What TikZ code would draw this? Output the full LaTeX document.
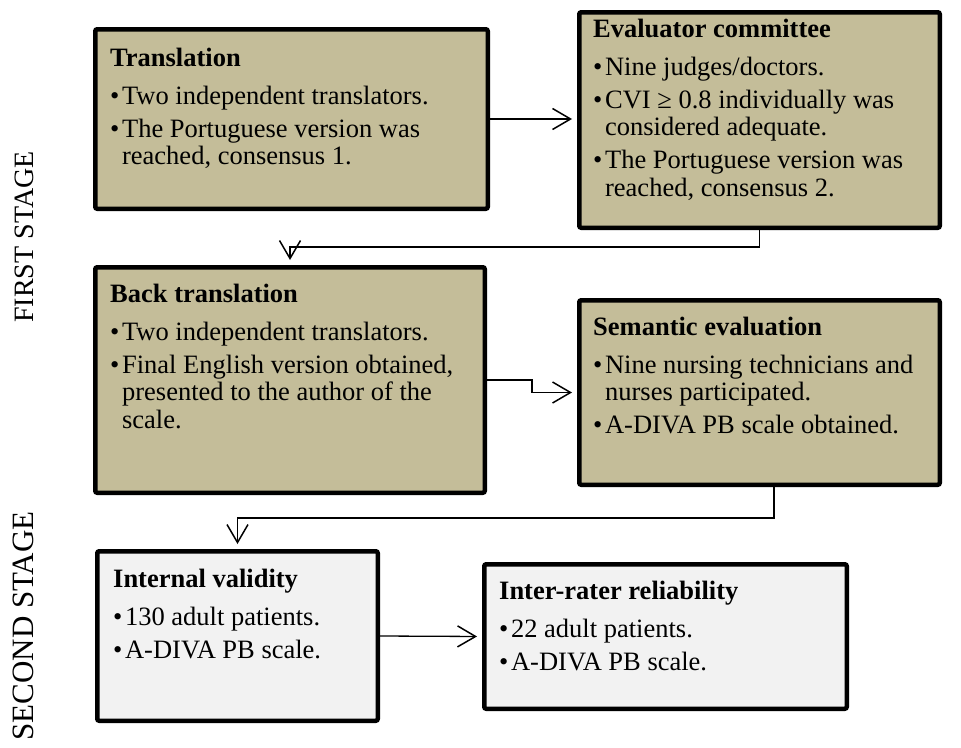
\documentclass[tikz,border=0pt]{standalone}
\usepackage{fontspec}
\setmainfont{Liberation Serif}
\usetikzlibrary{arrows.meta,calc}
\definecolor{khaki}{RGB}{196,189,153}
\definecolor{lgray}{RGB}{242,242,242}
\newcommand\bp[1]{\par\hangindent=0.45em\hangafter=1\noindent\makebox[0.45em][l]{\textbullet}#1}
\newcommand\boxtext[2]{\parbox[t]{360pt}{\fontsize{26.5}{27.5}\selectfont\raggedright\parskip=5.5pt\noindent\textbf{#1}\par\vspace{5pt}#2}}
\tikzset{
  stagebox/.style={draw, line width=4.5pt, rounded corners=2pt, fill=khaki, inner sep=0pt},
  graybox/.style={stagebox, fill=lgray},
  boxtxt/.style={anchor=base west, inner sep=0pt},
  conn/.style={line width=1.3pt, -{Straight Barb[length=18pt,width=21pt,line width=1.5pt]}, shorten >=5pt},
  stagelabel/.style={rotate=90, anchor=base, inner sep=0pt},
}
\begin{document}
\begin{tikzpicture}[x=1pt,y=-1pt]
\useasboundingbox (0,0) rectangle (961,747);
% boxes
\node[stagebox, minimum width=392.5pt, minimum height=179.5pt] (b1) at (291.5,119) {};
\node[stagebox, minimum width=360.5pt, minimum height=215.5pt] (b2) at (759.5,120) {};
\node[stagebox, minimum width=389.5pt, minimum height=225.5pt] (b3) at (290,380) {};
\node[stagebox, minimum width=360.5pt, minimum height=184.5pt] (b4) at (759.5,392.5) {};
\node[graybox, minimum width=280.5pt, minimum height=169.5pt] (b5) at (237.5,636) {};
\node[graybox, minimum width=362.5pt, minimum height=144.5pt] (b6) at (665.5,636.5) {};
% texts
\node[boxtxt] (t1) at (110,66) {\boxtext{Translation}{%
  \bp{Two independent translators.}
  \bp{The Portuguese version was\newline reached, consensus 1.}}};
\node[boxtxt] (t2) at (593,37) {\boxtext{Evaluator committee}{%
  \bp{Nine judges/doctors.}
  \bp{CVI ≥ 0.8 individually was\newline considered adequate.}
  \bp{The Portuguese version was\newline reached, consensus 2.}}};
\node[boxtxt] (t3) at (110,302) {\boxtext{Back translation}{%
  \bp{Two independent translators.}
  \bp{Final English version obtained,\newline presented to the author of the\newline scale.}}};
\node[boxtxt] (t4) at (593,335) {\boxtext{Semantic evaluation}{%
  \bp{Nine nursing technicians and\newline nurses participated.}
  \bp{A-DIVA PB scale obtained.}}};
\node[boxtxt] (t5) at (113,587) {\boxtext{Internal validity}{%
  \bp{130 adult patients.}
  \bp{A-DIVA PB scale.}}};
\node[boxtxt] (t6) at (499,599) {\boxtext{Inter-rater reliability}{%
  \bp{22 adult patients.}
  \bp{A-DIVA PB scale.}}};
% stage labels
\node[stagelabel, font=\fontsize{28}{30}\selectfont] (s1) at (33,237) {FIRST STAGE};
\node[stagelabel, font=\fontsize{31}{33}\selectfont] (s2) at (33,626) {SECOND STAGE};
% connectors
\coordinate (m34) at ($(b3.east)!0.5!(b4.west)$);
\draw[conn] (b1.east) -- (b1.east -| b2.west);
\draw[conn] (b2.south) -- ++(0,17) -| (b3.north);
\draw[conn] (b3.east) -| (m34) |- (b4.west);
\draw[conn] ([xshift=14.5pt]b4.south) -- ++(0,31) -| (b5.north);
\draw[conn] (b5.east) -- (b6.west);
\end{tikzpicture}
\end{document}
